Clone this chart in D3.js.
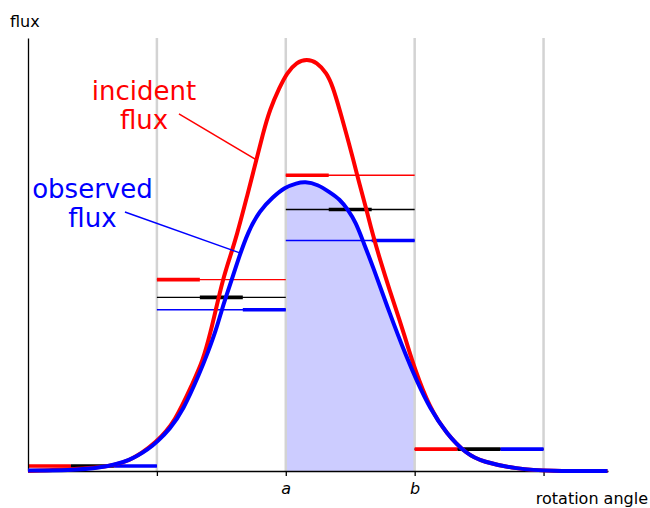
<html>
<script src="https://d3js.org/d3.v7.min.js"></script>
<style>
  body { margin: 0; background: #fff; }
  text { font-family: "DejaVu Sans", sans-serif; }
</style>
<body>
<svg id="chart" width="650" height="508"></svg>
<script>
  // bin edges along the rotation axis and the tick labels under them
  var binEdges = [0, 1, 2, 3, 4];
  var tickValues = [1, 2, 3, 4];
  var tickLabels = ["", "a", "b", ""];

  // binned fluxes: incident, mean, observed
  var incidentBins = [0.012, 0.464, 0.717, 0.053];
  var meanBins     = [0.012, 0.421, 0.634, 0.053];
  var observedBins = [0.012, 0.391, 0.559, 0.053];

  // curves: [angle, flux]
  var incidentCurve = [
    [0, 0], [0.558, 0.006], [0.791, 0.022], [1.0, 0.070], [1.140, 0.119],
    [1.279, 0.214], [1.357, 0.267], [1.419, 0.340], [1.457, 0.391], [1.512, 0.464],
    [1.558, 0.510], [1.620, 0.571], [1.698, 0.664], [1.775, 0.758], [1.822, 0.817],
    [1.876, 0.877], [1.953, 0.931], [2.008, 0.965], [2.085, 0.992], [2.163, 0.999],
    [2.240, 0.992], [2.318, 0.965], [2.364, 0.933], [2.419, 0.875], [2.473, 0.814],
    [2.519, 0.761], [2.574, 0.693], [2.628, 0.632], [2.674, 0.574], [2.729, 0.515],
    [2.806, 0.438], [2.884, 0.365], [2.938, 0.311], [3.0, 0.248], [3.116, 0.153],
    [3.248, 0.090], [3.403, 0.041], [3.527, 0.022], [3.791, 0.005], [4.047, 0],
    [4.496, 0]
  ];
  var observedCurve = [
    [0, 0.001], [0.326, 0.002], [0.558, 0.007], [0.791, 0.024], [0.946, 0.056],
    [1.0, 0.070], [1.101, 0.102], [1.202, 0.146], [1.333, 0.238], [1.395, 0.287],
    [1.457, 0.340], [1.504, 0.391], [1.535, 0.421], [1.581, 0.464], [1.628, 0.510],
    [1.705, 0.579], [1.798, 0.632], [1.899, 0.664], [1.992, 0.688], [2.085, 0.698],
    [2.147, 0.702], [2.248, 0.695], [2.341, 0.676], [2.419, 0.659], [2.481, 0.634],
    [2.543, 0.603], [2.597, 0.559], [2.674, 0.498], [2.806, 0.382], [2.938, 0.275],
    [3.016, 0.219], [3.116, 0.153], [3.248, 0.090], [3.403, 0.041], [3.527, 0.022],
    [3.791, 0.005], [4.047, 0], [4.496, 0]
  ];

  var svg = d3.select("#chart");

  var x = d3.scaleLinear().domain([0, 4.5]).range([28, 608]);
  var y = d3.scaleLinear().domain([0, 1.05]).range([471, 38]);

  var line = d3.line()
    .x(function(d) { return x(d[0]) })
    .y(function(d) { return y(d[1]) })
    .curve(d3.curveBasis);

  // shaded region between a and b under the observed curve
  svg.append("clipPath").attr("id", "ab")
    .append("rect")
      .attr("x", x(2)).attr("y", y(1.05))
      .attr("width", x(3) - x(2)).attr("height", y(0) - y(1.05));

  svg.append("path")
    .datum(observedCurve)
    .attr("clip-path", "url(#ab)")
    .attr("fill", "#ccccff")
    .attr("stroke", "none")
    .attr("d", d3.area()
      .x(function(d) { return x(d[0]) })
      .y0(y(0))
      .y1(function(d) { return y(d[1]) })
      .curve(d3.curveBasis));

  // grey bin boundaries
  svg.selectAll(".grid")
    .data(tickValues)
    .enter().append("line")
      .attr("x1", function(d) { return x(d) })
      .attr("x2", function(d) { return x(d) })
      .attr("y1", y(0))
      .attr("y2", y(1.05))
      .attr("stroke", "#d3d3d3")
      .attr("stroke-width", 2.5);

  // binned steps: thin over the whole bin, thick over one third of it
  var series = [
    { values: incidentBins, color: "#ff0000" },
    { values: meanBins, color: "#000000" },
    { values: observedBins, color: "#0000ff" }
  ];
  var steps = [];
  series.forEach(function(s, k) {
    s.values.forEach(function(v, i) {
      steps.push({ x0: binEdges[i], x1: binEdges[i + 1], k: k, v: v, color: s.color });
    });
  });

  svg.selectAll(".thin")
    .data(steps)
    .enter().append("line")
      .attr("x1", function(d) { return x(d.x0) })
      .attr("x2", function(d) { return x(d.x1) })
      .attr("y1", function(d) { return y(d.v) })
      .attr("y2", function(d) { return y(d.v) })
      .attr("stroke", function(d) { return d.color })
      .attr("stroke-width", 1.4);

  svg.selectAll(".thick")
    .data(steps)
    .enter().append("line")
      .attr("x1", function(d) { return x(d.x0 + d.k / 3) })
      .attr("x2", function(d) { return x(d.x0 + (d.k + 1) / 3) })
      .attr("y1", function(d) { return y(d.v) })
      .attr("y2", function(d) { return y(d.v) })
      .attr("stroke", function(d) { return d.color })
      .attr("stroke-width", 3.6);

  // axes: left spine and bottom axis with a / b
  svg.append("g")
    .attr("transform", "translate(" + x(0) + ",0)")
    .call(d3.axisLeft(y).tickValues([]).tickSizeOuter(0))
    .select(".domain").attr("stroke-width", 1.3);

  var xAxis = svg.append("g")
    .attr("transform", "translate(0," + y(0) + ")")
    .call(d3.axisBottom(x).tickValues(tickValues).tickSize(5).tickSizeOuter(0)
      .tickPadding(7)
      .tickFormat(function(d, i) { return tickLabels[i] }));
  xAxis.select(".domain").attr("stroke-width", 1.3);
  xAxis.selectAll(".tick line").attr("stroke-width", 1.3);
  xAxis.selectAll(".tick text")
    .attr("font-family", "DejaVu Sans")
    .attr("font-style", "italic")
    .attr("font-size", 16)
    .attr("fill", "#000");

  // curves
  svg.append("path")
    .datum(incidentCurve)
    .attr("fill", "none")
    .attr("stroke", "#ff0000")
    .attr("stroke-width", 4)
    .attr("d", line);

  svg.append("path")
    .datum(observedCurve)
    .attr("fill", "none")
    .attr("stroke", "#0000ff")
    .attr("stroke-width", 4)
    .attr("d", line);

  // annotations
  var notes = [
    { lines: ["incident", "flux"], color: "#ff0000", tx: 0.9, ty: 0.900, from: [1.171, 0.866], to: [1.775, 0.754] },
    { lines: ["observed", "flux"], color: "#0000ff", tx: 0.5, ty: 0.662, from: [0.752, 0.628], to: [1.643, 0.529] }
  ];
  notes.forEach(function(n) {
    svg.append("line")
      .attr("x1", x(n.from[0])).attr("y1", y(n.from[1]))
      .attr("x2", x(n.to[0])).attr("y2", y(n.to[1]))
      .attr("stroke", n.color)
      .attr("stroke-width", 1.5);
    var t = svg.append("text")
      .attr("x", x(n.tx))
      .attr("y", y(n.ty))
      .attr("text-anchor", "middle")
      .attr("font-size", 26)
      .attr("fill", n.color);
    n.lines.forEach(function(s, i) {
      t.append("tspan")
        .attr("x", x(n.tx))
        .attr("dy", i == 0 ? 0 : 29)
        .text(s);
    });
  });

  // axis titles
  svg.append("text")
    .attr("x", 10).attr("y", 27)
    .attr("font-size", 16)
    .text("flux");

  svg.append("text")
    .attr("x", 648).attr("y", 504)
    .attr("text-anchor", "end")
    .attr("font-size", 16)
    .text("rotation angle");
</script>
</body>
</html>
